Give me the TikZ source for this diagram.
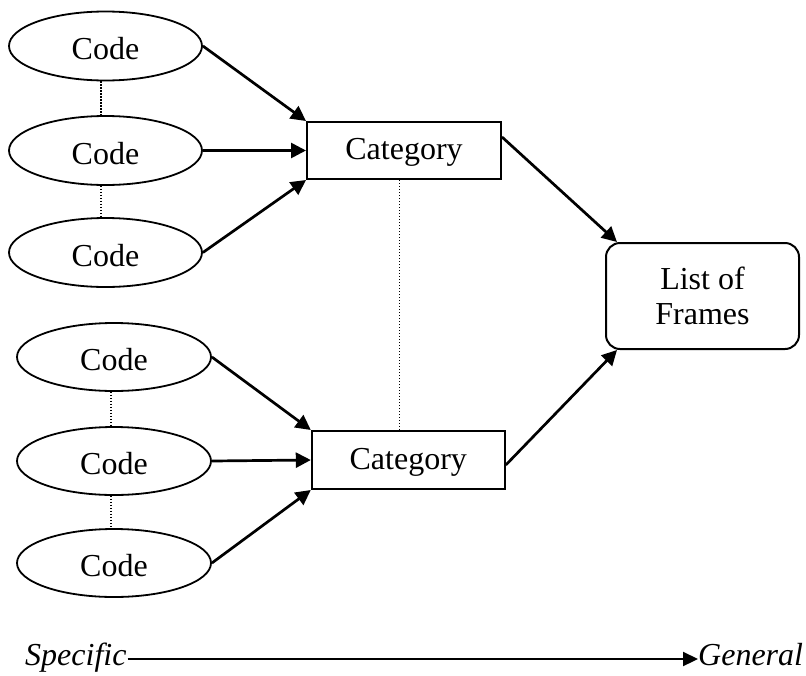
\documentclass[tikz,border=0pt]{standalone}
\usepackage{fontspec}
\setmainfont{Liberation Serif}
\usetikzlibrary{shapes.geometric,arrows.meta}

\begin{document}
\begin{tikzpicture}[x=1pt,y=-1pt,
  every node/.style={font=\fontsize{32}{35}\selectfont},
  code/.style={ellipse,draw,line width=1.8pt,minimum width=193pt,minimum height=69pt,inner sep=0pt,text height=27pt,text depth=0pt},
  cat/.style={rectangle,draw,line width=2pt,minimum width=194pt,minimum height=57pt,inner sep=0pt,text height=25.6pt,text depth=7pt},
  listbox/.style={rectangle,rounded corners=14pt,draw,line width=2pt,minimum width=193pt,minimum height=106pt,align=center,inner sep=0pt},
  link/.style={line width=2.7pt,-{Triangle[length=15pt,width=15pt]}},
  tie/.style={line width=1.2pt,dash pattern=on 1.2pt off 1.8pt},
  lbl/.style={inner sep=0pt,anchor=base west,font=\fontsize{32}{35}\selectfont\itshape}]
\useasboundingbox (0,0) rectangle (806,675);

% first group of codes and their category
\node[code] (c1) at (105.5,46) {Code};
\node[code] (c2) at (105.5,150.5) {Code};
\node[code] (c3) at (105.5,252.5) {Code};
\node[cat] (k1) at (404,150.5) {Category};

% second group of codes and their category
\node[code,minimum width=194pt,minimum height=68pt] (d1) at (114,357) {Code};
\node[code,minimum width=194pt,minimum height=68pt] (d2) at (114,461) {Code};
\node[code,minimum width=194pt,minimum height=68pt] (d3) at (114,563) {Code};
\node[cat,minimum width=193pt,minimum height=58pt] (k2) at (408.3,460) {Category};

% result
\node[listbox] (f) at (702.5,296) {List of\\Frames};

% code -> category
\draw[link] (c1.east) -- (k1.north west);
\draw[link] (c2.east) -- (k1.west);
\draw[link] (c3.east) -- (k1.south west);
\draw[link] (d1.east) -- (k2.north west);
\draw[link] (d2.east) -- (k2.west);
\draw[link] (d3.east) -- (k2.south west);

% category -> list of frames
\draw[link] ([yshift=13.5pt]k1.east) -- ([xshift=12pt]f.north west);
\draw[link] ([yshift=-5pt]k2.east) -- ([xshift=12pt]f.south west);

% dotted ties
\coordinate (ta) at (101,0);
\coordinate (tb) at (111,0);
\coordinate (tc) at (399.7,0);
\draw[tie] (c1.south -| ta) -- (c2.north -| ta);
\draw[tie] (c2.south -| ta) -- (c3.north -| ta);
\draw[tie] (d1.south -| tb) -- (d2.north -| tb);
\draw[tie] (d2.south -| tb) -- (d3.north -| tb);
\draw[tie] (k1.south -| tc) -- (k2.north -| tc);

% axis
\node[lbl] (sp) at (25,665) {Specific};
\node[lbl] (ge) at (698,665) {General};
\draw[line width=2.2pt,-{Triangle[length=15pt,width=14pt]}] ([xshift=1pt,yshift=6pt]sp.base east) -- ([yshift=6pt]ge.base west);
\end{tikzpicture}
\end{document}
